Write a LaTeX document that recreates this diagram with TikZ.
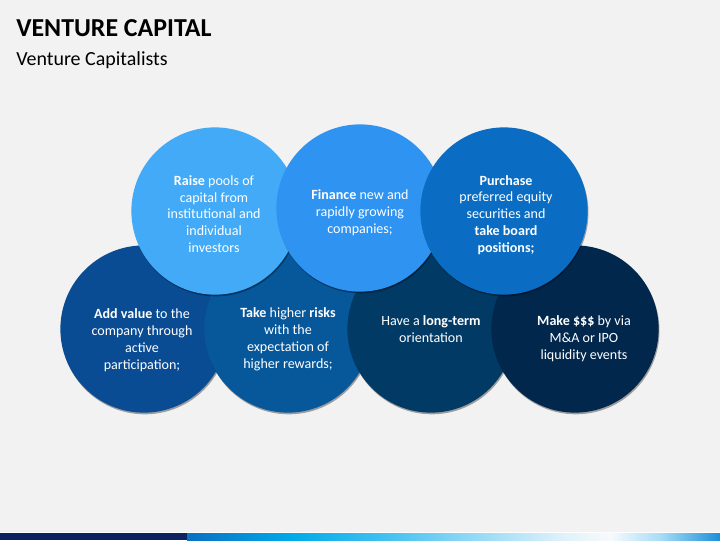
\documentclass[tikz,border=0pt]{standalone}
\usepackage{fontspec}
\setmainfont{Carlito}
\usetikzlibrary{shadows}
\definecolor{bgc}{HTML}{F2F2F2}
\definecolor{raisec}{HTML}{42AAF6}
\definecolor{financec}{HTML}{2F93F2}
\definecolor{purchasec}{HTML}{0A6DC3}
\definecolor{addc}{HTML}{0A4C93}
\definecolor{takec}{HTML}{07579B}
\definecolor{longc}{HTML}{023A66}
\definecolor{makec}{HTML}{01274C}
\definecolor{barnavy}{HTML}{0D2260}
\definecolor{barA}{HTML}{0A6FC2}
\definecolor{barB}{HTML}{00A9E8}
\definecolor{barC}{HTML}{3DC0F0}
\definecolor{barD}{HTML}{90D8F5}
\definecolor{barE}{HTML}{DDF1FA}
\definecolor{barF}{HTML}{F7FAFC}
\definecolor{barG}{HTML}{A8DDF6}
\definecolor{barH}{HTML}{1A8FD8}
\tikzset{
  bubble/.style={circle, minimum size=4.18cm, inner sep=0pt,
    drop shadow={shadow xshift=0.6pt, shadow yshift=-1.2pt, opacity=0.35, fill=black}},
  bubbletext/.style={align=center, text=white, inner sep=0pt, font=\fontsize{10}{12}\selectfont},
  barpart/.style={shading=axis, shading angle=90}
}

\begin{document}
\begin{tikzpicture}[x=0.025cm, y=-0.025cm]
\fill [bgc] (0,0) rectangle (720,540);
\useasboundingbox (0,0) rectangle (720,540);

\node [anchor=base west, inner sep=0pt, font=\fontsize{18.4}{21}\selectfont\bfseries] (title) at (16,36.5) {VENTURE CAPITAL};
\node [anchor=base west, inner sep=0pt, font=\fontsize{14.2}{17}\selectfont] (subtitle) at (16,65.5) {Venture Capitalists};

\node [bubble, fill=addc] (addvalue) at (144,329) {};
\node [bubbletext] (addvaluetext) at (142,340) {\textbf{Add value} to the\\company through\\active\\participation;};
\node [bubble, fill=takec] (takerisks) at (288,329) {};
\node [bubbletext] (takerisktext) at (288,339) {\textbf{Take} higher \textbf{risks}\\with the\\expectation of\\higher rewards;};
\node [bubble, fill=longc] (longterm) at (431,329) {};
\node [bubbletext] (longtermtext) at (431,329) {Have a \textbf{long-term}\\orientation};
\node [bubble, fill=makec] (makemoney) at (575,329) {};
\node [bubbletext] (makemoneytext) at (584,339) {\textbf{Make \$\$\$} by via\\M\&A or IPO\\liquidity events};

\node [bubble, fill=raisec] (raise) at (215,211) {};
\node [bubbletext] (raisetext) at (214,214) {\textbf{Raise} pools of\\capital from\\institutional and\\individual\\investors};
\node [bubble, fill=financec] (finance) at (360,208) {};
\node [bubbletext] (financetext) at (360,213) {\textbf{Finance} new and\\rapidly growing\\companies;};
\node [bubble, fill=purchasec] (purchase) at (504,211) {};
\node [bubbletext] (purchasetext) at (506,215) {\textbf{Purchase}\\preferred equity\\securities and\\\textbf{take board}\\\textbf{positions;}};

\fill [white!85!bgc] (0,531.5) rectangle (720,533);
\fill [barnavy] (0,533) rectangle (187,540);
\shade [barpart, left color=barA, right color=barB] (187,533) rectangle (290,540);
\shade [barpart, left color=barB, right color=barC] (290,533) rectangle (380,540);
\shade [barpart, left color=barC, right color=barD] (380,533) rectangle (470,540);
\shade [barpart, left color=barD, right color=barE] (470,533) rectangle (560,540);
\shade [barpart, left color=barE, right color=barF] (560,533) rectangle (610,540);
\shade [barpart, left color=barF, right color=barG] (610,533) rectangle (660,540);
\shade [barpart, left color=barG, right color=barH] (660,533) rectangle (720,540);
\end{tikzpicture}
\end{document}
